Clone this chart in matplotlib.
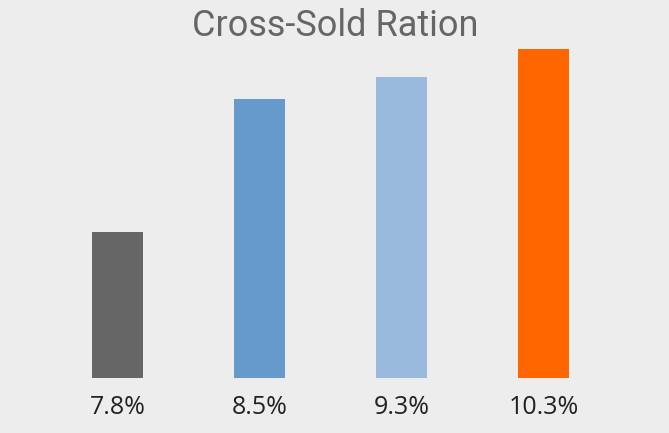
import matplotlib.pyplot as plt

labels = ['7.8%', '8.5%', '9.3%', '10.3%']
heights = [146, 279, 301, 329]
colors = ['#666666', '#6699CC', '#99BADD', '#FF6600']

fig = plt.figure(figsize=(6.69, 4.33), dpi=100, facecolor='#EDEDED')
ax = fig.add_axes([0, 55 / 433, 1, 378 / 433])
ax.set_facecolor('#EDEDED')

x = range(len(labels))
ax.bar(x, heights, width=0.36, color=colors)

ax.set_xlim(-117.5 / 142, (669 - 117.5) / 142)
ax.set_ylim(0, 378)
ax.set_xticks(list(x))
ax.set_xticklabels(labels, fontsize=18, color='#222222', family='Open Sans')
ax.tick_params(axis='x', length=0, pad=12)
ax.set_yticks([])
for s in ax.spines.values():
    s.set_visible(False)

fig.text(335 / 669, 1 - 26 / 433, 'Cross-Sold Ration', ha='center', va='center',
         fontsize=26, color='#666666', family='Roboto')

fig.savefig('out.png', dpi=100, facecolor=fig.get_facecolor())
